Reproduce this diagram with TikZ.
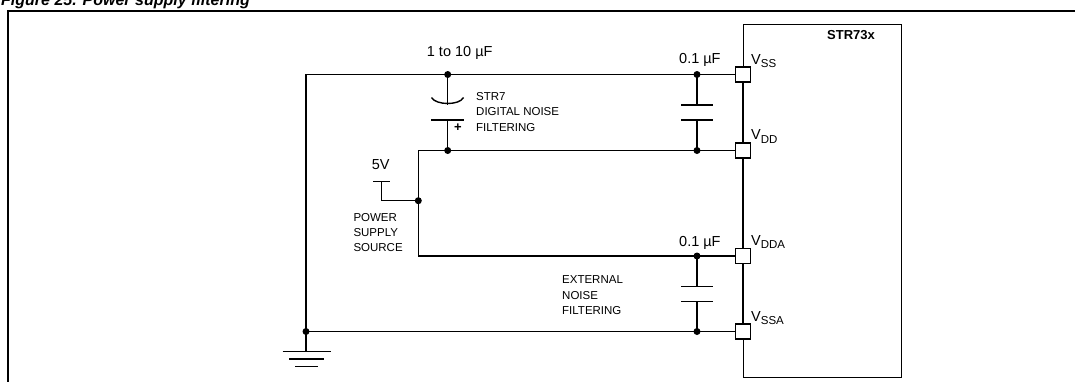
\documentclass[tikz,border=0pt]{standalone}
\usepackage{fontspec}
\setmainfont{Liberation Sans}
\begin{document}
\begin{tikzpicture}[x=1pt,y=-1pt,
  wire/.style={line width=1.4pt},
  frame/.style={line width=2pt},
  dot/.style={circle,fill,inner sep=0pt,minimum size=7pt},
  pin/.style={draw,line width=1.4pt,fill=white,minimum size=15pt,inner sep=0pt},
  lbl/.style={inner sep=0pt,anchor=base west,font=\fontsize{14.5}{16}\selectfont},
  small/.style={inner sep=0pt,anchor=base west,font=\fontsize{11.5}{13}\selectfont}]
\newcommand\vsub[1]{V\raisebox{-3.5pt}{\fontsize{11.5}{12}\selectfont #1}}
\useasboundingbox (0,0) rectangle (1075,381);
% title (cut off at top)
\node[inner sep=0pt,anchor=base west,font=\fontsize{16}{18}\selectfont\bfseries\itshape] (title) at (1,5.5) {Figure 25. Power supply filtering};
% outer frame
\draw[frame] (8,420) -- (8,11) -- (1090,11);
% chip
\node[draw,line width=1.4pt,minimum width=158pt,minimum height=353pt,inner sep=0pt,anchor=north west] (chip) at (743,24) {};
\node[inner sep=0pt,anchor=base,font=\fontsize{13}{15}\selectfont\bfseries] (chipname) at (851,39.3) {STR73x};
% pins
\node[pin] (pss) at (743,74.5) {};
\node[pin] (pdd) at (743,150.5) {};
\node[pin] (pdda) at (743,256) {};
\node[pin] (pssa) at (743,331.5) {};
\node[lbl] (lss) at (751,64.3) {\vsub{SS}};
\node[lbl] (ldd) at (751,139.5) {\vsub{DD}};
\node[lbl] (ldda) at (751,245) {\vsub{DDA}};
\node[lbl] (lssa) at (751,321) {\vsub{SSA}};
% coordinates and dots
\coordinate (c1) at (306,74.5);
\coordinate (c2) at (418.3,150.5);
\coordinate (c3) at (418.3,256);
\node[dot] (d1) at (447.7,74.5) {};
\node[dot] (d2) at (697,74.5) {};
\node[dot] (d3) at (447.7,150.5) {};
\node[dot] (d4) at (697,150.5) {};
\node[dot] (d5) at (418.3,200.7) {};
\node[dot] (d6) at (697,256) {};
\node[dot] (d7) at (697,331.5) {};
\node[dot] (d8) at (306,331.5) {};
% wires
\draw[wire] (d8.center) -- (c1) -- (d1.center) -- (d2.center) -- (pss.west);
\draw[wire] (d8.center) -- (d7.center) -- (pssa.west);
\draw[wire] (c2) -- (d3.center) -- (d4.center) -- (pdd.west);
\draw[wire] (c2) -- (d5.center) -- (c3) -- (d6.center) -- (pdda.west);
\draw[wire] (pss.south) -- (pdd.north);
\draw[wire] (pdd.south) -- (pdda.north);
\draw[wire] (pdda.south) -- (pssa.north);
% electrolytic capacitor
\coordinate (ea) at (447.7,104.5);
\coordinate (eb) at (447.7,120);
\draw[wire] (d1.center) -- (ea);
\draw[wire] (431.5,97.5) .. controls (436,105.5) and (459.5,105.5) .. (463.5,97.5);
\draw[wire] (431,120) -- (463.5,120);
\draw[wire] (eb) -- (d3.center);
\node[inner sep=0pt,font=\fontsize{13}{13}\selectfont\bfseries] (plus) at (458,128) {+};
% top right capacitor
\coordinate (ta) at (697,105);
\coordinate (tb) at (697,120);
\draw[wire] (d2.center) -- (ta);
\draw[wire] (681,105) -- (713,105);
\draw[wire] (681,120) -- (713,120);
\draw[wire] (tb) -- (d4.center);
% bottom right capacitor
\coordinate (ba) at (697,286.7);
\coordinate (bb) at (697,301.7);
\draw[wire] (d6.center) -- (ba);
\draw[wire] (681,286.7) -- (713,286.7);
\draw[wire] (681,301.7) -- (713,301.7);
\draw[wire] (bb) -- (d7.center);
% 5V source
\coordinate (s5) at (381.7,181.7);
\coordinate (s5b) at (381.7,200.7);
\draw[wire] (373.3,181.7) -- (390,181.7);
\draw[wire] (s5) -- (s5b) -- (d5.center);
\node[inner sep=0pt,anchor=base,font=\fontsize{14.5}{16}\selectfont] (fivev) at (380.7,169.3) {5V};
% ground
\coordinate (g0) at (306,351.7);
\draw[wire] (d8.center) -- (g0);
\draw[wire] (282.7,351.7) -- (330.7,351.7);
\draw[wire] (289,359) -- (324,359);
\draw[wire] (295,366.7) -- (318,366.7);
% labels
\node[lbl] (cap1) at (426.7,56) {1 to 10 µF};
\node[lbl] (cap2) at (679,63.3) {0.1 µF};
\node[lbl] (cap3) at (679,246) {0.1 µF};
\node[small] (t1) at (476,100) {STR7};
\node[small] (t2) at (476,115.8) {DIGITAL NOISE};
\node[small] (t3) at (476,131.6) {FILTERING};
\node[small] (p1) at (353.3,221.7) {POWER};
\node[small] (p2) at (353.3,236.7) {SUPPLY};
\node[small] (p3) at (353.3,251.7) {SOURCE};
\node[small] (e1) at (562,283.3) {EXTERNAL};
\node[small] (e2) at (562,299) {NOISE};
\node[small] (e3) at (562,314.8) {FILTERING};
\end{tikzpicture}
\end{document}
